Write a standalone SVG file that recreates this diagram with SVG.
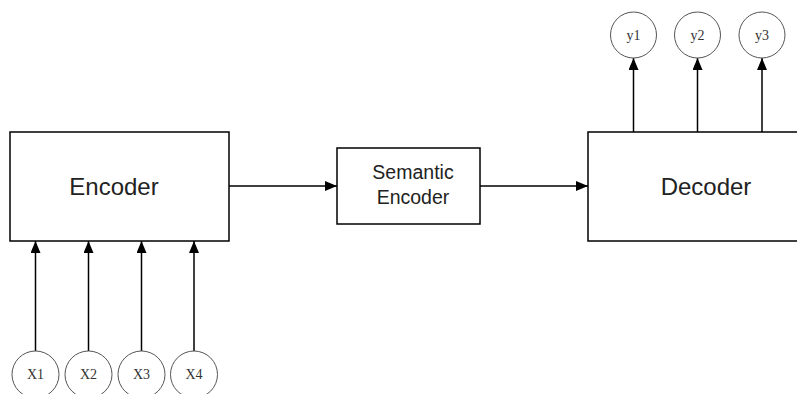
<svg xmlns="http://www.w3.org/2000/svg" width="797" height="394" viewBox="0 0 797 394">
<defs>
<marker id="ah" markerWidth="12" markerHeight="10" refX="12" refY="5" orient="auto" markerUnits="userSpaceOnUse">
<path d="M0,0 L12,5 L0,10 Z" fill="#000"/>
</marker>
<style>
.box{fill:#fff;stroke:#000;stroke-width:1.5}
.circ{fill:#fff;stroke:#555;stroke-width:1}
.big{font-family:"Liberation Sans","DejaVu Sans",sans-serif;font-size:24px;fill:#222;text-anchor:middle}
.mid{font-family:"Liberation Sans","DejaVu Sans",sans-serif;font-size:19.5px;fill:#222;text-anchor:middle}
.sm{font-family:"Liberation Serif","DejaVu Serif",serif;font-size:14px;fill:#333;text-anchor:middle}
.ln{stroke:#000;stroke-width:1.5;fill:none}
</style>
</defs>
<rect width="797" height="394" fill="#fff"/>
<g id="connectors">
<line class="ln" x1="229" y1="186" x2="337" y2="186" marker-end="url(#ah)"/>
<line class="ln" x1="480" y1="186" x2="588" y2="186" marker-end="url(#ah)"/>
<line class="ln" x1="35.5" y1="351" x2="35.5" y2="241" marker-end="url(#ah)"/>
<line class="ln" x1="88.5" y1="351" x2="88.5" y2="241" marker-end="url(#ah)"/>
<line class="ln" x1="141.5" y1="351" x2="141.5" y2="241" marker-end="url(#ah)"/>
<line class="ln" x1="194" y1="351" x2="194" y2="241" marker-end="url(#ah)"/>
<line class="ln" x1="633.5" y1="132" x2="633.5" y2="58" marker-end="url(#ah)"/>
<line class="ln" x1="697.5" y1="132" x2="697.5" y2="58" marker-end="url(#ah)"/>
<line class="ln" x1="762" y1="132" x2="762" y2="58" marker-end="url(#ah)"/>
</g>
<g id="encoder">
<rect class="box" x="10" y="132" width="219" height="109"/>
<text class="big" x="114" y="195">Encoder</text>
</g>
<g id="semantic-encoder">
<rect class="box" x="337" y="148" width="143" height="76"/>
<text class="mid" x="413" y="179">Semantic</text>
<text class="mid" x="413" y="204">Encoder</text>
</g>
<g id="decoder">
<rect class="box" x="588" y="132" width="220" height="109"/>
<text class="big" x="706" y="195">Decoder</text>
</g>
<g id="x1"><circle class="circ" cx="35.5" cy="374.5" r="23.5"/><text class="sm" x="35.5" y="379">X1</text></g>
<g id="x2"><circle class="circ" cx="88.5" cy="374.5" r="23.5"/><text class="sm" x="88.5" y="379">X2</text></g>
<g id="x3"><circle class="circ" cx="141.5" cy="374.5" r="23.5"/><text class="sm" x="141.5" y="379">X3</text></g>
<g id="x4"><circle class="circ" cx="194" cy="374.5" r="23.5"/><text class="sm" x="194" y="379">X4</text></g>
<g id="y1"><circle class="circ" cx="633.5" cy="35" r="23"/><text class="sm" x="633.5" y="40">y1</text></g>
<g id="y2"><circle class="circ" cx="697.5" cy="35" r="23"/><text class="sm" x="697.5" y="40">y2</text></g>
<g id="y3"><circle class="circ" cx="762" cy="35" r="23"/><text class="sm" x="762" y="40">y3</text></g>
</svg>
